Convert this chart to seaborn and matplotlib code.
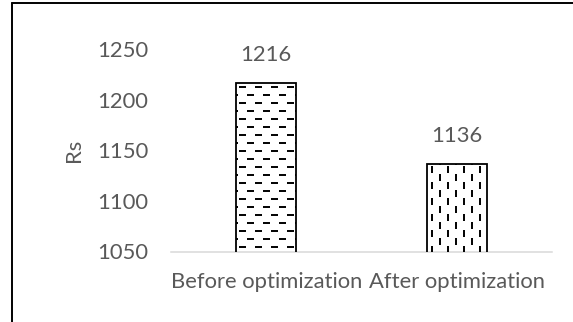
import matplotlib
matplotlib.use("Agg")
import matplotlib.pyplot as plt
from matplotlib.collections import LineCollection
from matplotlib.lines import Line2D
from matplotlib.transforms import Bbox, IdentityTransform
import seaborn as sns
import pandas as pd

categories = ["Before optimization", "After optimization"]
costs = [1216, 1136]
y_ticks = [1050, 1100, 1150, 1200, 1250]
y_label = "Rs"

TEXT = "#595959"
FONT = ["Lato", "DejaVu Sans"]
FS = 15.8

sns.set_theme(style="white")
plt.rcParams["font.family"] = FONT

df = pd.DataFrame({"stage": categories, "cost": costs})

fig = plt.figure(figsize=(5.73, 3.22), dpi=100)
ax = fig.add_axes([171 / 573, 1 - 251.5 / 322, (552 - 171) / 573, (251.5 - 49) / 322])

sns.barplot(data=df, x="stage", y="cost", ax=ax, color="white",
            edgecolor="black", linewidth=1.3, width=0.315, saturation=1)

ax.set_ylim(y_ticks[0], y_ticks[-1])
ax.set_xlim(-0.5, len(categories) - 0.5)
ax.set_yticks(y_ticks)
ax.set_yticklabels([str(t) for t in y_ticks])
ax.tick_params(axis="y", length=0, pad=16.5, labelsize=FS, labelcolor=TEXT)
ax.tick_params(axis="x", length=0, pad=15, labelsize=FS, labelcolor=TEXT)
ax.set_xlabel("")
ax.set_ylabel(y_label, fontsize=FS, color=TEXT, labelpad=9)

for side in ["top", "right", "left"]:
    ax.spines[side].set_visible(False)
ax.spines["bottom"].set_color("#d9d9d9")
ax.spines["bottom"].set_linewidth(1.1)

# value labels above bars
for bar, v in zip(ax.patches, costs):
    ax.annotate(str(v), (bar.get_x() + bar.get_width() / 2, v),
                xytext=(0, 13), textcoords="offset points",
                ha="center", va="bottom", fontsize=FS, color=TEXT)

# dashed fill textures, drawn in pixel space and clipped to each bar
fig.canvas.draw()


def dashed_texture(bar, vertical):
    box = Bbox.intersection(bar.get_window_extent(), ax.bbox)
    x0, y0, x1, y1 = box.x0, box.y0, box.x1, box.y1
    segs = []
    step, period, dash = 8.0, 16.0, 7.0
    if not vertical:
        row = 0
        y = y1 - 4
        while y > y0:
            off = 0 if row % 2 == 0 else period / 2
            x = x0 + 3 + off - period
            while x < x1:
                segs.append([(x, y), (x + dash, y)])
                x += period
            y -= step
            row += 1
    else:
        col = 0
        x = x0 + 5
        while x < x1:
            off = 0 if col % 2 == 0 else period / 2
            y = y1 - 2 - off + period
            while y > y0 - period:
                segs.append([(x, y), (x, y - dash)])
                y -= period
            x += step
            col += 1
    lc = LineCollection(segs, colors="black", linewidths=1.4,
                        transform=IdentityTransform(), zorder=bar.get_zorder() + 0.5)
    lc.set_clip_box(box)
    fig.add_artist(lc)


dashed_texture(ax.patches[0], vertical=False)
dashed_texture(ax.patches[1], vertical=True)

# bar outlines on top of the texture
for bar in ax.patches:
    bar.set_zorder(5)
    bar.set_facecolor("none")

# chart frame
fig.add_artist(Line2D([11.5 / 573, 11.5 / 573], [0, 1 - 3 / 322], color="black", lw=1.4,
                      transform=fig.transFigure))
fig.add_artist(Line2D([11.5 / 573, 1], [1 - 3 / 322, 1 - 3 / 322], color="black", lw=1.4,
                      transform=fig.transFigure))

fig.savefig("out.png", dpi=100)
